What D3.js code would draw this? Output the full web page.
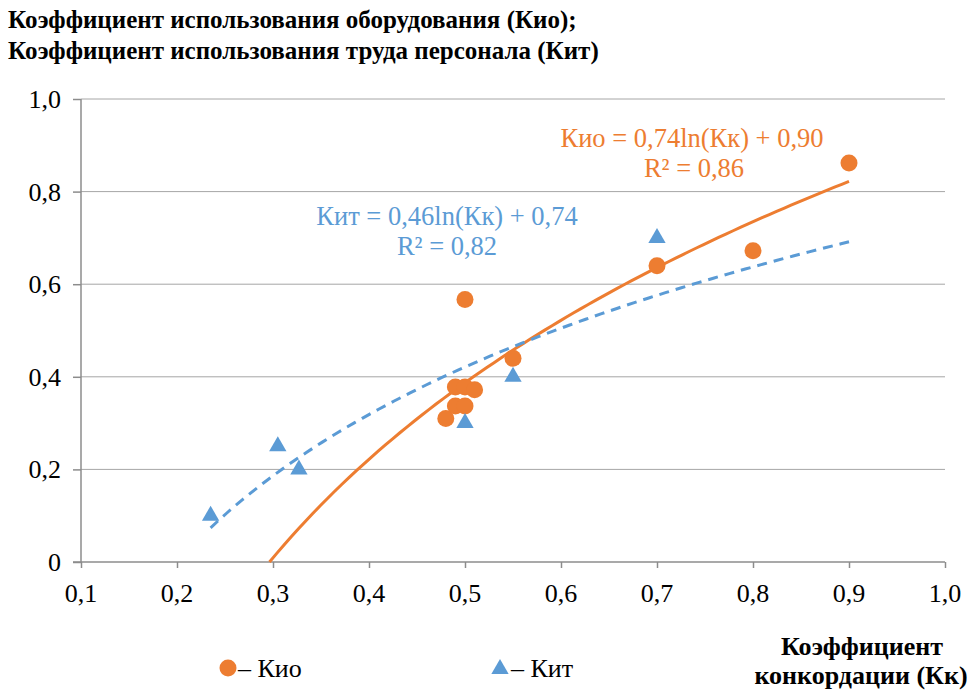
<!DOCTYPE html>
<html>
<head>
<meta charset="utf-8">
<script src="https://cdn.jsdelivr.net/npm/d3@7"></script>
<style>
  body { margin: 0; background: #fff; }
  svg { display: block; font-family: "Liberation Serif", "Times New Roman", serif; }
</style>
</head>
<body>
<div id="vis"></div>
<script>
const width = 973;
const height = 690;
const plot = { left: 81, right: 945, top: 99, bottom: 562 };

// Кио (circles)
const kioX = [0.48, 0.49, 0.50, 0.49, 0.50, 0.51, 0.50, 0.55, 0.70, 0.80, 0.90];
const kioY = [0.31, 0.337, 0.337, 0.378, 0.378, 0.372, 0.567, 0.44, 0.64, 0.672, 0.862];
// Кит (triangles)
const kitX = [0.235, 0.305, 0.327, 0.50, 0.55, 0.70];
const kitY = [0.10, 0.25, 0.20, 0.30, 0.40, 0.70];

// logarithmic trendlines shown on chart: y = a*ln(x) + b
const kioTrend = { a: 0.74, b: 0.90, from: Math.exp(-0.90 / 0.74), to: 0.9 };
const kitTrend = { a: 0.46, b: 0.74, from: 0.235, to: 0.9 };

const xTicks = [0.1, 0.2, 0.3, 0.4, 0.5, 0.6, 0.7, 0.8, 0.9, 1.0];
const yTicks = [0, 0.2, 0.4, 0.6, 0.8, 1.0];

const orange = "#ed7d31";
const blue = "#5b9bd5";

const fmt = v => v === 0 ? "0" : d3.format(".1f")(v).replace(".", ",");

const xScale = d3.scaleLinear().domain([0.1, 1.0]).range([plot.left, plot.right]);
const yScale = d3.scaleLinear().domain([0, 1]).range([plot.bottom, plot.top]);

const svg = d3.select("#vis").append("svg")
  .attr("width", width)
  .attr("height", height)
  .attr("font-family", "Liberation Serif");

// Tick labels (placed with the scales)
svg.append("g")
  .selectAll("text")
  .data(yTicks)
  .join("text")
  .attr("x", plot.left - 20)
  .attr("y", d => yScale(d) + 9)
  .attr("text-anchor", "end")
  .attr("font-size", 26)
  .text(fmt);

svg.append("g")
  .selectAll("text")
  .data(xTicks)
  .join("text")
  .attr("x", d => xScale(d))
  .attr("y", plot.bottom + 40)
  .attr("text-anchor", "middle")
  .attr("font-size", 26)
  .text(fmt);

// Titles
svg.append("text").attr("x", 8).attr("y", 28)
  .attr("font-weight", "bold").attr("font-size", 25)
  .text("Коэффициент использования оборудования (Кио);");
svg.append("text").attr("x", 8).attr("y", 59)
  .attr("font-weight", "bold").attr("font-size", 25)
  .text("Коэффициент использования труда персонала (Кит)");

// Gridlines
svg.append("g")
  .selectAll("line")
  .data(yTicks.filter(d => d > 0))
  .join("line")
  .attr("x1", plot.left).attr("x2", plot.right)
  .attr("y1", d => yScale(d)).attr("y2", d => yScale(d))
  .attr("stroke", "#a6a6a6").attr("stroke-width", 1);

// Axis lines and tick marks
const yAxis = svg.append("g")
  .attr("transform", `translate(${plot.left},0)`)
  .call(d3.axisLeft(yScale).tickValues(yTicks).tickSize(8).tickFormat(""));

const xAxis = svg.append("g")
  .attr("transform", `translate(0,${plot.bottom})`)
  .call(d3.axisBottom(xScale).tickValues(xTicks).tickSize(6).tickFormat(""));

[yAxis, xAxis].forEach(g => {
  g.select(".domain").attr("stroke", "#8c8c8c").attr("stroke-width", 1.5);
  g.selectAll(".tick line").attr("stroke", "#8c8c8c").attr("stroke-width", 1.5);
  g.selectAll(".tick text").remove();
});
yAxis.select(".domain").attr("d", `M0,${plot.top}V${plot.bottom}`);
xAxis.select(".domain").attr("d", `M${plot.left - 8},0H${plot.right}`);

// Trendlines
function trendPoints(t) {
  const n = 80;
  return d3.range(n + 1).map(i => {
    const x = t.from + (t.to - t.from) * i / n;
    return [x, t.a * Math.log(x) + t.b];
  });
}
const line = d3.line().x(d => xScale(d[0])).y(d => yScale(d[1]));

svg.append("path")
  .attr("d", line(trendPoints(kioTrend)))
  .attr("fill", "none").attr("stroke", orange).attr("stroke-width", 3);

svg.append("path")
  .attr("d", line(trendPoints(kitTrend)))
  .attr("fill", "none").attr("stroke", blue).attr("stroke-width", 3)
  .attr("stroke-dasharray", "10,7");

// Points
svg.append("g")
  .selectAll("circle")
  .data(d3.zip(kioX, kioY))
  .join("circle")
  .attr("cx", d => xScale(d[0]))
  .attr("cy", d => yScale(d[1]))
  .attr("r", 8.5)
  .attr("fill", orange);

const tri = d3.symbol().type(d3.symbolTriangle).size(130);
svg.append("g")
  .selectAll("path")
  .data(d3.zip(kitX, kitY))
  .join("path")
  .attr("d", tri)
  .attr("transform", d => `translate(${xScale(d[0])},${yScale(d[1])})`)
  .attr("fill", blue);

// Equation labels
const eq = [
  { x: 692, y: 147, text: "Кио = 0,74ln(Кк) + 0,90", color: orange },
  { x: 694, y: 177, text: "R² = 0,86", color: orange },
  { x: 447, y: 225, text: "Кит = 0,46ln(Кк) + 0,74", color: blue },
  { x: 447, y: 255, text: "R² = 0,82", color: blue }
];
svg.append("g")
  .selectAll("text")
  .data(eq)
  .join("text")
  .attr("x", d => d.x).attr("y", d => d.y)
  .attr("text-anchor", "middle")
  .attr("font-size", 26.5)
  .attr("fill", d => d.color)
  .text(d => d.text);

// Legend
svg.append("circle").attr("cx", 228).attr("cy", 668).attr("r", 8.5).attr("fill", orange);
svg.append("text").attr("x", 238).attr("y", 677).attr("font-size", 26).text("– Кио");
svg.append("path").attr("d", tri).attr("transform", "translate(500,669)").attr("fill", blue);
svg.append("text").attr("x", 511).attr("y", 677).attr("font-size", 26).text("– Кит");

// X axis title
svg.append("text").attr("x", 862).attr("y", 655)
  .attr("text-anchor", "middle").attr("font-weight", "bold").attr("font-size", 26)
  .text("Коэффициент");
svg.append("text").attr("x", 861).attr("y", 684)
  .attr("text-anchor", "middle").attr("font-weight", "bold").attr("font-size", 26)
  .text("конкордации (Кк)");
</script>
</body>
</html>
